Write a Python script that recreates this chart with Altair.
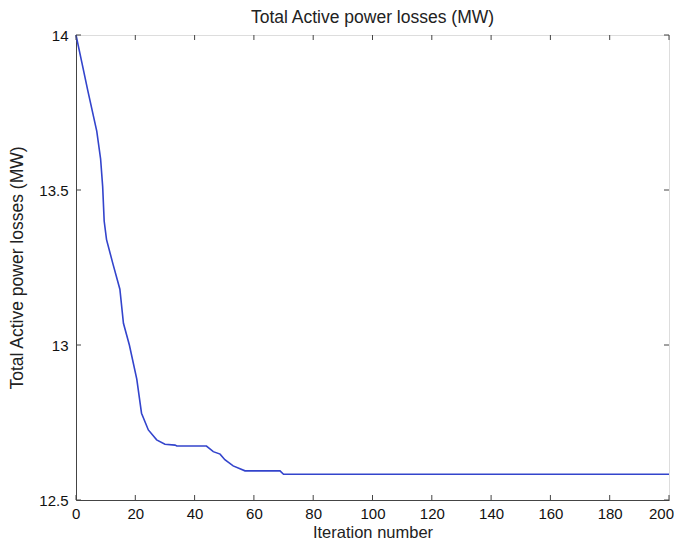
import altair as alt
import pandas as pd

iterations = [0, 2, 4, 7.0, 8.3, 9.0, 9.5, 10.3, 12.5, 14.8, 16, 18, 20.5, 22.1, 24.4, 27.2, 30, 33.4, 34, 44, 46.3, 48.6, 50.2, 53, 57, 68.8, 70, 100, 150, 200]
losses = [14.0, 13.91, 13.82, 13.69, 13.60, 13.51, 13.40, 13.34, 13.26, 13.18, 13.07, 13.00, 12.89, 12.78, 12.726, 12.694, 12.68, 12.677, 12.674, 12.674, 12.656, 12.648, 12.63, 12.61, 12.594, 12.594, 12.583, 12.583, 12.583, 12.583]

x_ticks = [0, 20, 40, 60, 80, 100, 120, 140, 160, 180, 200]
y_ticks = [12.5, 13.0, 13.5, 14.0]

W, H = 593, 465
df = pd.DataFrame({"iter": iterations, "loss": losses})
xt = pd.DataFrame({"t": x_ticks})
yt = pd.DataFrame({"t": y_ticks})

xs = alt.Scale(domain=[0, 200], nice=False, zero=False)
ys = alt.Scale(domain=[12.5, 14.0], nice=False, zero=False)
FONT = "Liberation Sans"

line = alt.Chart(df).mark_line(color="#3344cc", strokeWidth=1.6).encode(
    x=alt.X("iter:Q", scale=xs, axis=alt.Axis(
        values=x_ticks, title="Iteration number", tickSize=0, labelPadding=6,
        grid=False, labelFlush=True, labelFlushOffset=4.5, labelFontSize=15,
        titleFontSize=16.5, titleFontWeight="normal", labelColor="#111",
        titleColor="#222", titlePadding=3, domainColor="#444",
        labelFont=FONT, titleFont=FONT)),
    y=alt.Y("loss:Q", scale=ys, axis=alt.Axis(
        values=y_ticks, title="Total Active power losses (MW)", tickSize=0,
        grid=False, labelFlush=False, labelPadding=8, labelFontSize=15,
        titleFontSize=17.5, titleFontWeight="normal", labelColor="#111",
        titleColor="#222", titlePadding=12, domainColor="#444",
        labelFont=FONT, titleFont=FONT,
        labelExpr="format(datum.value, '.1~f')")),
)

tick_len = 5
bx = alt.Chart(xt).mark_rule(color="#444").encode(
    x=alt.X("t:Q", scale=xs), y=alt.value(H - tick_len), y2=alt.value(H))
tx = alt.Chart(xt).mark_rule(color="#444").encode(
    x=alt.X("t:Q", scale=xs), y=alt.value(0), y2=alt.value(tick_len))
ly = alt.Chart(yt).mark_rule(color="#444").encode(
    y=alt.Y("t:Q", scale=ys), x=alt.value(0), x2=alt.value(tick_len))
ry = alt.Chart(yt).mark_rule(color="#444").encode(
    y=alt.Y("t:Q", scale=ys), x=alt.value(W - tick_len), x2=alt.value(W))

chart = alt.layer(line, bx, tx, ly, ry).properties(
    width=W, height=H,
    title=alt.TitleParams("Total Active power losses (MW)", fontSize=17.5,
                          fontWeight="normal", font=FONT, color="#222",
                          offset=11, frame="group", dy=9),
    autosize=alt.AutoSizeParams(type="none"),
    padding={"left": 68, "top": 27, "right": 5, "bottom": 46},
).configure_view(stroke="#444", strokeWidth=1.2).configure(background="white")

chart.save("out.html", embed_options={"renderer": "svg", "actions": False})
